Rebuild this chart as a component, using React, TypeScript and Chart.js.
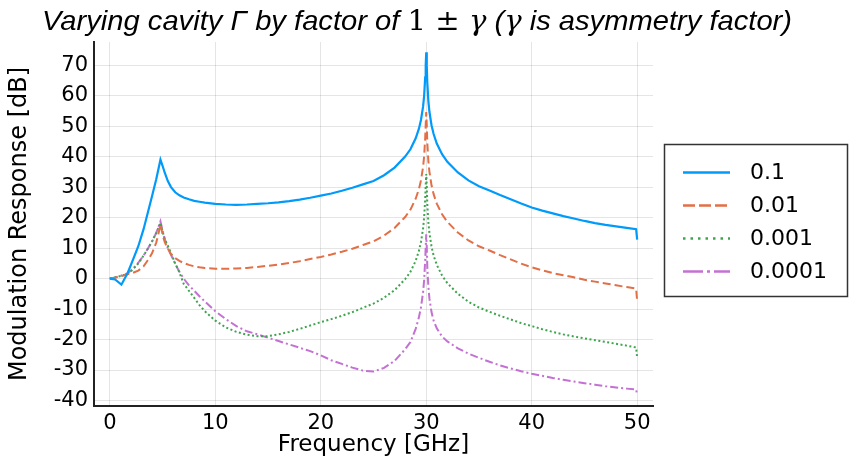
import { useEffect, useRef } from "react";
import { Chart, registerables } from "chart.js";

Chart.register(...registerables);

// ---------- data ----------
const freq = [
  0, 0.5, 1.1, 1.7, 2.2, 2.7, 3.2, 3.6, 4.0, 4.4,
  4.6, 4.8, 5.0, 5.2, 5.5, 5.8, 6.2, 6.6, 7.0, 7.5,
  8, 8.5, 9, 10, 11, 12, 13, 14, 15, 16,
  17, 18, 19, 20, 21, 22, 23, 24, 25, 26,
  27, 28, 28.5, 29, 29.3, 29.5, 29.7, 29.8, 29.9, 29.95,
  30, 30.05, 30.1, 30.2, 30.3, 30.5, 30.7, 31, 31.5, 32,
  33, 34, 35, 36, 37, 38, 39, 40, 41, 42,
  43, 44, 45, 46, 47, 48, 49, 49.9, 50,
];

const resp_0_1 = [
  0, -0.3, -2.0, 1.9, 6.2, 10.6, 16.2, 21.6, 27.0, 32.6,
  35.8, 39.0, 37.0, 34.8, 32.0, 30.0, 28.3, 27.3, 26.6, 26.0,
  25.5, 25.2, 24.9, 24.5, 24.3, 24.2, 24.3, 24.5, 24.7, 25.0,
  25.4, 25.9, 26.5, 27.2, 27.9, 28.8, 29.8, 30.9, 32.0, 33.9,
  36.4, 40.0, 42.4, 46.0, 49.1, 52.0, 56.4, 59.9, 66.0, 70.0,
  74.2, 70.0, 64.3, 58.3, 54.8, 50.3, 47.4, 44.3, 40.8, 38.3,
  34.8, 32.2, 30.3, 28.9, 27.4, 26.0, 24.6, 23.3, 22.3, 21.4,
  20.5, 19.7, 18.9, 18.2, 17.6, 17.1, 16.6, 16.2, 12.8,
];

const resp_0_01 = [
  0, 0.3, 0.8, 1.4, 1.9, 2.6, 4.0, 6.0, 8.3, 11.8,
  14.5, 17.8, 14.5, 12.0, 9.8, 8.0, 6.7, 5.8, 5.1, 4.5,
  4.0, 3.7, 3.5, 3.2, 3.2, 3.3, 3.5, 3.8, 4.2, 4.6,
  5.1, 5.7, 6.4, 7.1, 7.9, 8.8, 9.8, 11.0, 12.2, 14.1,
  16.6, 20.2, 22.6, 26.2, 29.3, 32.2, 36.6, 40.1, 46.0, 50.5,
  54.6, 50.5, 44.6, 38.6, 35.1, 30.6, 27.7, 24.6, 21.1, 18.6,
  15.1, 12.5, 10.6, 9.2, 7.7, 6.3, 4.9, 3.7, 2.7, 1.8,
  1.1, 0.4, -0.4, -1.0, -1.6, -2.2, -2.8, -3.3, -7.5,
];

const resp_0_001 = [
  0, 0.4, 0.9, 1.6, 3.0, 5.0, 7.5, 9.8, 12.2, 15.0,
  16.6, 18.3, 15.5, 13.0, 10.8, 8.3, 5.0, 2.0, -1.7, -4.0,
  -6.3, -8.7, -10.7, -13.8, -16.0, -17.5, -18.4, -18.9, -18.9, -18.3,
  -17.5, -16.5, -15.4, -14.3, -13.3, -12.2, -11.0, -9.6, -8.2, -6.3,
  -3.8, -0.2, 2.2, 5.8, 9.0, 12.0, 16.4, 20.0, 26.0, 30.5,
  34.3, 30.5, 24.5, 18.5, 15.0, 10.5, 7.5, 4.5, 1.0, -1.5,
  -5.0, -7.6, -9.5, -10.9, -12.2, -13.4, -14.6, -15.6, -16.6, -17.5,
  -18.3, -19.0, -19.6, -20.2, -20.8, -21.4, -22.0, -22.6, -26.1,
];

const resp_0_0001 = [
  0, 0.4, 1.0, 1.8, 3.2, 5.2, 7.6, 9.8, 12.1, 15.0,
  16.8, 18.8, 15.8, 13.0, 10.0, 7.8, 4.8, 2.2, 0.0, -2.2,
  -4.0, -5.8, -7.5, -10.7, -13.3, -15.6, -17.3, -18.3, -19.4, -20.5,
  -21.6, -22.7, -23.8, -25.2, -26.8, -28.0, -29.2, -30.2, -30.5, -29.3,
  -27.0, -23.2, -20.8, -16.5, -12.8, -9.5, -4.5, -0.5, 6.0, 10.5,
  14.5, 10.5, 4.0, -2.5, -6.5, -11.0, -13.8, -16.3, -19.0, -20.6,
  -22.9, -24.6, -26.0, -27.3, -28.5, -29.5, -30.4, -31.2, -31.9, -32.6,
  -33.2, -33.8, -34.3, -34.8, -35.3, -35.7, -36.1, -36.4, -38.2,
];

const seriesLabels = ["0.1", "0.01", "0.001", "0.0001"];
const xTickValues = [0, 10, 20, 30, 40, 50];
const yTickValues = [-40, -30, -20, -10, 0, 10, 20, 30, 40, 50, 60, 70];
const titleParts = ["Varying cavity Γ by factor of ", "1 ± ", "γ", " (", "γ", " is asymmetry factor)"];
const xTitle = "Frequency [GHz]";
const yTitle = "Modulation Response [dB]";

// ---------- styles ----------
const colors = ["#009AFA", "#E36F47", "#3EA44E", "#C371D2"];
const plotDash = [[], [8, 4], [2, 2.5], [8, 3, 2, 3]];
const legendDash = [[], [12, 4], [2.5, 5], [20, 4, 3, 4]];
const FONT = "'DejaVu Sans', sans-serif";

const titlePlugin = {
  id: "customTitle",
  afterDraw(chart: any) {
    const ctx = chart.ctx as CanvasRenderingContext2D;
    ctx.save();
    const size = 28;
    const fonts = titleParts.map((_, i) =>
      i === 1
        ? `${size}px 'DejaVu Serif', serif`
        : i === 2 || i === 4
        ? `italic ${size}px 'DejaVu Serif', serif`
        : `italic ${size}px 'Liberation Sans', sans-serif`
    );
    let total = 0;
    const widths = titleParts.map((t, i) => {
      ctx.font = fonts[i];
      const w = ctx.measureText(t).width;
      total += w;
      return w;
    });
    const left = 42;
    const right = 792;
    const sx = (right - left) / total;
    ctx.translate(left, 30);
    ctx.scale(sx, 1);
    ctx.fillStyle = "#000";
    ctx.textBaseline = "alphabetic";
    let x = 0;
    titleParts.forEach((t, i) => {
      ctx.font = fonts[i];
      ctx.fillText(t, x, 0);
      x += widths[i];
    });
    ctx.restore();
  },
};

const legendPlugin = {
  id: "customLegend",
  afterDraw(chart: any) {
    const ctx = chart.ctx as CanvasRenderingContext2D;
    ctx.save();
    ctx.fillStyle = "#fff";
    ctx.fillRect(664, 144, 184, 153);
    ctx.strokeStyle = "#333";
    ctx.lineWidth = 1.5;
    ctx.strokeRect(664.5, 144.5, 183, 152);
    chart.data.datasets.forEach((ds: any, i: number) => {
      const y = 172.5 + i * 33;
      ctx.strokeStyle = ds.borderColor;
      ctx.lineWidth = 2.5;
      ctx.setLineDash(legendDash[i]);
      ctx.beginPath();
      ctx.moveTo(683, y);
      ctx.lineTo(730, y);
      ctx.stroke();
      ctx.setLineDash([]);
      ctx.fillStyle = "#000";
      ctx.font = `22px ${FONT}`;
      ctx.textBaseline = "middle";
      ctx.fillText(ds.label, 750, y + 1);
    });
    ctx.restore();
  },
};

export default function App() {
  const canvasRef = useRef<HTMLCanvasElement | null>(null);

  useEffect(() => {
    const canvas = canvasRef.current;
    if (!canvas) return;
    const series = [resp_0_1, resp_0_01, resp_0_001, resp_0_0001];
    const chart = new Chart(canvas, {
      type: "line",
      data: {
        datasets: series.map((arr, i) => ({
          label: seriesLabels[i],
          data: freq.map((x, j) => ({ x, y: arr[j] })),
          borderColor: colors[i],
          backgroundColor: colors[i],
          borderWidth: i === 0 ? 2.2 : 2,
          borderDash: plotDash[i],
          pointRadius: 0,
          tension: 0,
          fill: false,
        })),
      },
      options: {
        responsive: false,
        maintainAspectRatio: false,
        animation: false,
        layout: { padding: { left: 0, top: 42, right: 197, bottom: 0 } },
        plugins: {
          legend: { display: false },
          title: { display: false },
          tooltip: { enabled: false },
        },
        scales: {
          x: {
            type: "linear",
            min: -1.5,
            max: 51.5,
            afterBuildTicks: (scale: any) => {
              scale.ticks = xTickValues.map((v) => ({ value: v }));
            },
            afterFit: (scale: any) => {
              scale.height = 52;
            },
            grid: { color: "rgba(0,0,0,0.1)", drawTicks: false, lineWidth: 1 },
            border: { display: true, color: "#222", width: 2 },
            ticks: {
              padding: 5,
              color: "#000",
              font: { size: 21, family: FONT },
              maxRotation: 0,
            },
            title: {
              display: true,
              text: xTitle,
              color: "#000",
              font: { size: 23, family: FONT },
              padding: { top: 0, bottom: -1 },
            },
          },
          y: {
            type: "linear",
            min: -41.8,
            max: 77.6,
            afterBuildTicks: (scale: any) => {
              scale.ticks = yTickValues.map((v) => ({ value: v }));
            },
            afterFit: (scale: any) => {
              scale.width = 94;
            },
            grid: { color: "rgba(0,0,0,0.1)", drawTicks: false, lineWidth: 1 },
            border: { display: true, color: "#222", width: 2 },
            ticks: {
              padding: 6,
              color: "#000",
              font: { size: 21, family: FONT },
            },
            title: {
              display: true,
              text: yTitle,
              color: "#000",
              font: { size: 24, family: FONT },
              padding: { top: 5, bottom: 0 },
            },
          },
        },
      },
      plugins: [titlePlugin, legendPlugin],
    });
    return () => chart.destroy();
  }, []);

  return (
    <div style={{ position: "fixed", left: 0, top: 0, width: 850, height: 458, background: "#fff" }}>
      <canvas ref={canvasRef} width={850} height={458} style={{ width: 850, height: 458, display: "block" }} />
    </div>
  );
}
